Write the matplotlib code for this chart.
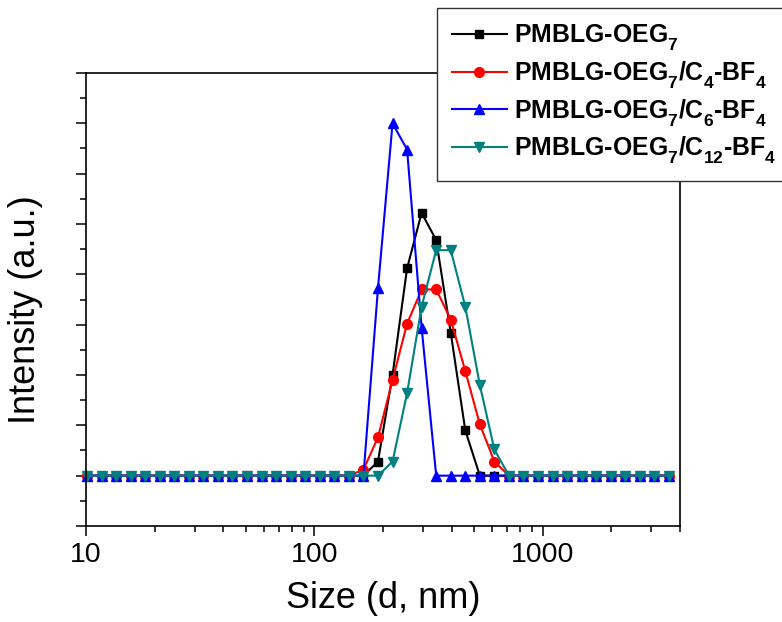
import matplotlib
matplotlib.use("Agg")
import matplotlib.pyplot as plt
from matplotlib.ticker import MultipleLocator, LogLocator, NullFormatter
from matplotlib import _mathtext

plt.rcParams['font.family'] = ['Liberation Sans', 'DejaVu Sans']
plt.rcParams['mathtext.fontset'] = 'custom'
plt.rcParams['mathtext.rm'] = 'Liberation Sans:bold'
plt.rcParams['mathtext.it'] = 'Liberation Sans:bold'
plt.rcParams['mathtext.bf'] = 'Liberation Sans:bold'
# Origin pone los subíndices más abajo que mathtext
_mathtext.FontConstantsBase.sub1 = 0.6
_mathtext.FontConstantsBase.sub2 = 0.8

# Malvern size bins (d, nm), visible range
size_nm = [10.1, 11.7, 13.54, 15.69, 18.17, 21.04, 24.36, 28.21, 32.67, 37.84,
           43.82, 50.75, 58.77, 68.06, 78.82, 91.28, 105.7, 122.4, 141.8, 164.2,
           190.1, 220.2, 255.0, 295.3, 342.0, 396.1, 458.7, 531.2, 615.1, 712.4,
           825.0, 955.4, 1106, 1281, 1484, 1718, 1990, 2305, 2669, 3091, 3580]

# Intensity (%) for each bin
oeg7 = [0, 0, 0, 0, 0, 0, 0, 0, 0, 0,
        0, 0, 0, 0, 0, 0, 0, 0, 0, 0,
        1.4, 10.0, 20.6, 26.1, 23.4, 14.2, 4.5, 0, 0, 0,
        0, 0, 0, 0, 0, 0, 0, 0, 0, 0, 0]
oeg7_c4 = [0, 0, 0, 0, 0, 0, 0, 0, 0, 0,
           0, 0, 0, 0, 0, 0, 0, 0, 0, 0.6,
           3.8, 9.5, 15.1, 18.5, 18.5, 15.5, 10.4, 5.1, 1.4, 0,
           0, 0, 0, 0, 0, 0, 0, 0, 0, 0, 0]
oeg7_c6 = [0, 0, 0, 0, 0, 0, 0, 0, 0, 0,
           0, 0, 0, 0, 0, 0, 0, 0, 0, 0,
           18.6, 35.0, 32.4, 14.7, 0, 0, 0, 0, 0, 0,
           0, 0, 0, 0, 0, 0, 0, 0, 0, 0, 0]
oeg7_c12 = [0, 0, 0, 0, 0, 0, 0, 0, 0, 0,
            0, 0, 0, 0, 0, 0, 0, 0, 0, 0,
            0, 1.4, 8.2, 16.8, 22.4, 22.4, 16.8, 9.0, 2.6, 0,
            0, 0, 0, 0, 0, 0, 0, 0, 0, 0, 0]

labels = [r'PMBLG-OEG$_7$',
          r'PMBLG-OEG$_7$/C$_4$-BF$_4$',
          r'PMBLG-OEG$_7$/C$_6$-BF$_4$',
          r'PMBLG-OEG$_7$/C$_{12}$-BF$_4$']

fig = plt.figure(figsize=(7.82, 6.22), dpi=100)
ax = fig.add_axes([86 / 782, 96 / 622, 594 / 782, 453 / 622])

series = [
    (oeg7, '#000000', 's', 6.0),
    (oeg7_c4, '#FF0000', 'o', 7.0),
    (oeg7_c6, '#0000FF', '^', 7.4),
    (oeg7_c12, '#008080', 'v', 7.4),
]
for (vals, col, mk, ms), lab in zip(series, labels):
    ax.plot(size_nm, vals, color=col, marker=mk, markersize=ms,
            markeredgecolor=col, linewidth=1.5, label=lab, clip_on=False)

ax.set_xscale('log')
ax.set_xlim(10, 4000)
ax.set_ylim(-5, 40)
ax.xaxis.set_minor_locator(LogLocator(base=10, subs=range(2, 10)))
ax.xaxis.set_minor_formatter(NullFormatter())
ax.yaxis.set_major_locator(MultipleLocator(5))
ax.yaxis.set_minor_locator(MultipleLocator(2.5))
ax.set_xticks([10, 100, 1000])
ax.set_xticklabels(['10', '100', '1000'])
ax.tick_params(axis='y', which='both', labelleft=False)
ax.tick_params(which='major', direction='out', length=7.2, width=1.1, labelsize=20.5, pad=4)
ax.tick_params(which='minor', direction='out', length=4.3, width=1.1)
for sp in ax.spines.values():
    sp.set_linewidth(1.2)

ax.set_xlabel('Size (d, nm)', fontsize=26)
ax.set_ylabel('Intensity (a.u.)', fontsize=26)
ax.xaxis.set_label_coords(0.5008, -0.121)
ax.yaxis.set_label_coords(-0.0724, 0.477)

leg = ax.legend(loc='upper left', bbox_to_anchor=(437 / 782, 614 / 622),
                bbox_transform=fig.transFigure, borderaxespad=0,
                prop={'weight': 'bold', 'size': 17.9}, frameon=True, fancybox=False,
                edgecolor='#333333', framealpha=1, borderpad=0.6,
                labelspacing=0.25, handlelength=2.2, handletextpad=0.3)
leg.get_frame().set_linewidth(1.0)

fig.savefig('out.png', dpi=100)
